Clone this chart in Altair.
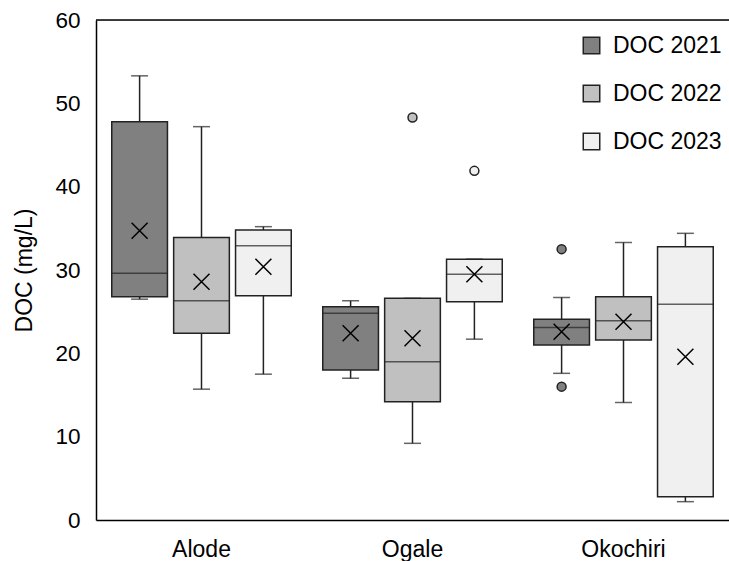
import altair as alt
import pandas as pd

sites = ["Alode"] * 3 + ["Ogale"] * 3 + ["Okochiri"] * 3
series = ["DOC 2021", "DOC 2022", "DOC 2023"] * 3
lower = [26.5, 15.7, 17.5, 17.0, 9.2, 21.7, 17.6, 14.1, 2.2]
q1 = [26.8, 22.4, 26.9, 18.0, 14.2, 26.2, 21.0, 21.6, 2.8]
median = [29.6, 26.3, 32.9, 24.8, 19.0, 29.5, 23.1, 23.9, 25.9]
q3 = [47.8, 33.9, 34.8, 25.6, 26.6, 31.3, 24.1, 26.8, 32.8]
upper = [53.3, 47.2, 35.2, 26.3, 26.6, 31.3, 26.7, 33.3, 34.4]
mean = [34.7, 28.6, 30.4, 22.4, 21.8, 29.5, 22.6, 23.8, 19.6]

out_sites = ["Ogale", "Ogale", "Okochiri", "Okochiri"]
out_series = ["DOC 2022", "DOC 2023", "DOC 2021", "DOC 2021"]
out_values = [48.3, 41.9, 32.5, 16.0]

site_order = ["Alode", "Ogale", "Okochiri"]
series_order = ["DOC 2021", "DOC 2022", "DOC 2023"]
fills = ["#808080", "#c0c0c0", "#f0f0f0"]

df = pd.DataFrame({"site": sites, "series": series, "lower": lower, "q1": q1,
                   "median": median, "q3": q3, "upper": upper, "mean": mean})
odf = pd.DataFrame({"site": out_sites, "series": out_series, "value": out_values})

W, H = 633, 500
STROKE = "#222222"
FONT = "Liberation Sans"

x = alt.X("site:N", sort=site_order,
          scale=alt.Scale(paddingInner=0.12, paddingOuter=0.06),
          axis=alt.Axis(title=None, ticks=False, domain=True, domainColor="black",
                        domainWidth=1.5, labelPadding=18, labelFontSize=23,
                        labelColor="black", labelFont=FONT, labelAngle=0))
xo = alt.XOffset("series:N", sort=series_order,
                 scale=alt.Scale(paddingInner=0.1, paddingOuter=0.05))
yscale = alt.Scale(domain=[0, 60], nice=False)
yaxis = alt.Axis(title="DOC (mg/L)", values=[0, 10, 20, 30, 40, 50, 60], grid=False,
                 ticks=False, domainColor="black", domainWidth=1.5, labelPadding=16,
                 labelFontSize=22.5, labelFont=FONT, labelColor="black",
                 titleFontSize=23, titleFont=FONT, titleFontWeight="normal",
                 titleColor="black", titleX=-72, titleY=250, titleAngle=-90,
                 titleAlign="center", titleBaseline="middle")
color = alt.Color("series:N", sort=series_order,
                  scale=alt.Scale(domain=series_order, range=fills),
                  legend=alt.Legend(title=None, orient="none", legendX=484, legendY=14,
                                    symbolType="square", symbolSize=272,
                                    symbolStrokeColor=STROKE, symbolStrokeWidth=1.5,
                                    labelFontSize=23, labelFont=FONT, labelColor="black",
                                    labelOffset=10, rowPadding=24, padding=0,
                                    symbolOpacity=1))

base = alt.Chart(df)

upper_whisker = base.mark_rule(color=STROKE, strokeWidth=1.5).encode(
    x=x, xOffset=xo, y=alt.Y("q3:Q", scale=yscale, axis=yaxis), y2="upper:Q")
lower_whisker = base.mark_rule(color=STROKE, strokeWidth=1.5).encode(
    x=x, xOffset=xo, y=alt.Y("lower:Q", scale=yscale), y2="q1:Q")
cap_hi = base.mark_tick(color=STROKE, size=17, thickness=1.5).encode(
    x=x, xOffset=xo, y=alt.Y("upper:Q", scale=yscale))
cap_lo = base.mark_tick(color=STROKE, size=17, thickness=1.5).encode(
    x=x, xOffset=xo, y=alt.Y("lower:Q", scale=yscale))
box = base.mark_bar(stroke=STROKE, strokeWidth=1.5, opacity=1).encode(
    x=x, xOffset=xo, y=alt.Y("q1:Q", scale=yscale), y2="q3:Q", color=color)
med = base.mark_tick(color=STROKE, size=56, thickness=1.5).encode(
    x=x, xOffset=xo, y=alt.Y("median:Q", scale=yscale))
mean_pt = base.mark_point(shape="M-1,-1L1,1M-1,1L1,-1", size=256, filled=False,
                          stroke="black", strokeWidth=1.5, opacity=1).encode(
    x=x, xOffset=xo, y=alt.Y("mean:Q", scale=yscale))
outl = alt.Chart(odf).mark_point(shape="circle", size=80, filled=True, stroke=STROKE,
                                 strokeWidth=1.5, opacity=1).encode(
    x=x, xOffset=xo, y=alt.Y("value:Q", scale=yscale),
    fill=alt.Fill("series:N", scale=alt.Scale(domain=series_order, range=fills), legend=None))
top_line = alt.Chart(pd.DataFrame({"a": [0]})).mark_rule(color="black", strokeWidth=1.5).encode(
    x=alt.value(0), x2=alt.value(W), y=alt.value(0))

chart = alt.layer(upper_whisker, lower_whisker, cap_hi, cap_lo, box, med, mean_pt, outl,
                  top_line).properties(
    width=W, height=H,
    autosize=alt.AutoSizeParams(type="none"),
    padding={"left": 96, "top": 20, "right": 0, "bottom": 41},
).configure_view(stroke=None).configure(background="white")

chart.save("out.html", embed_options={"renderer": "svg", "actions": False})
